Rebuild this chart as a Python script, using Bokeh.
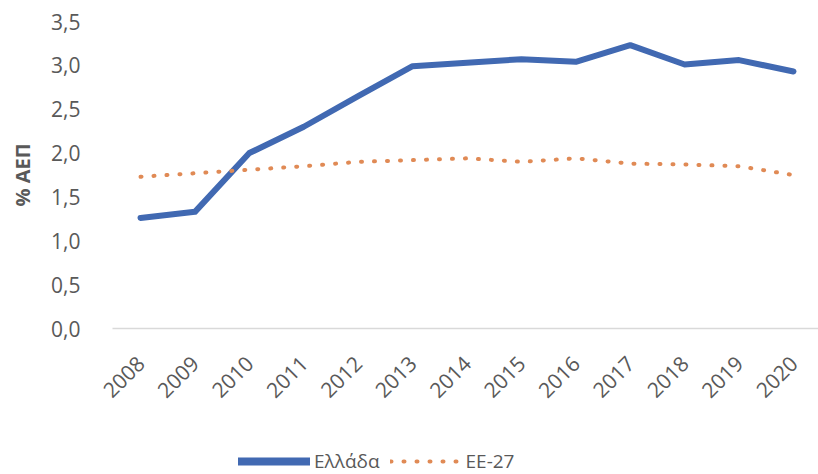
import math
from bokeh.plotting import figure
from bokeh.layouts import column
from bokeh.models import (ColumnDataSource, FixedTicker, CustomJSTickFormatter,
                          Legend, LegendItem, Range1d)
from bokeh.embed import file_html
from bokeh.resources import INLINE

years = [2008, 2009, 2010, 2011, 2012, 2013, 2014, 2015, 2016, 2017, 2018, 2019, 2020]
greece = [1.26, 1.33, 2.00, 2.30, 2.65, 2.99, 3.03, 3.07, 3.04, 3.23, 3.01, 3.06, 2.93]
eu27 = [1.73, 1.77, 1.81, 1.85, 1.90, 1.92, 1.94, 1.90, 1.94, 1.88, 1.87, 1.85, 1.75]
y_ticks = [0, 0.5, 1.0, 1.5, 2.0, 2.5, 3.0, 3.5]
name_greece = "Ελλάδα"
name_eu = "ΕΕ-27"
y_title = "% ΑΕΠ"

FONT = "Open Sans"
GRAY = "#595959"
BLUE = "#4169B2"
ORANGE = "#E08A55"

src = ColumnDataSource(dict(x=years, gr=greece, eu=eu27))

p = figure(width=818, height=446, output_backend="svg", toolbar_location=None,
           x_range=Range1d(2007.485, 2020.46), y_range=Range1d(0, 3.5),
           min_border_left=112, min_border_right=0, min_border_top=21,
           min_border_bottom=118)
p.outline_line_color = None
p.xgrid.visible = False
p.ygrid.visible = False

p.line("x", "gr", source=src, line_color=BLUE, line_width=6,
       line_join="round", line_cap="round")
p.line("x", "eu", source=src, line_color=ORANGE, line_width=4,
       line_dash="1 12", line_cap="round")

# y axis
ya = p.yaxis[0]
ya.ticker = FixedTicker(ticks=y_ticks)
ya.formatter = CustomJSTickFormatter(code="return tick.toFixed(1).replace('.', ',');")
ya.axis_line_color = None
ya.major_tick_line_color = None
ya.minor_tick_line_color = None
ya.major_label_standoff = 26
ya.major_label_text_font = FONT
ya.major_label_text_font_size = "21px"
ya.major_label_text_color = GRAY
ya.axis_label = y_title
ya.axis_label_text_font = FONT
ya.axis_label_text_font_size = "20px"
ya.axis_label_text_font_style = "bold"
ya.axis_label_text_color = GRAY
ya.axis_label_standoff = 12

# x axis
xa = p.xaxis[0]
xa.ticker = FixedTicker(ticks=years)
xa.formatter = CustomJSTickFormatter(code="return tick.toFixed(0);")
xa.axis_line_color = "#D9D9D9"
xa.axis_line_width = 1.5
xa.major_tick_line_color = None
xa.minor_tick_line_color = None
xa.major_label_orientation = math.pi / 4
xa.major_label_standoff = 25
xa.major_label_text_font = FONT
xa.major_label_text_font_size = "21px"
xa.major_label_text_color = GRAY

# legend strip below the chart (series drawn out of view, only the legend shows)
p2 = figure(width=818, height=28, output_backend="svg", toolbar_location=None,
            x_range=Range1d(0, 1), y_range=Range1d(0, 1),
            min_border_left=112, min_border_right=0, min_border_top=0,
            min_border_bottom=0)
p2.outline_line_color = None
p2.axis.visible = False
p2.grid.visible = False
lg_gr = p2.line("x", "gr", source=src, line_color=BLUE, line_width=8,
                line_cap="round")
lg_eu = p2.line("x", "eu", source=src, line_color=ORANGE, line_width=4,
                line_dash="1 12", line_cap="round")

legend = Legend(items=[LegendItem(label=name_greece, renderers=[lg_gr]),
                       LegendItem(label=name_eu, renderers=[lg_eu])],
                location=(126, 0), orientation="horizontal",
                glyph_width=72, glyph_height=20, label_standoff=4, spacing=10,
                label_text_font=FONT, label_text_font_size="19px",
                label_text_color=GRAY, border_line_color=None,
                background_fill_alpha=0, padding=2, margin=0)
p2.add_layout(legend, "center")

layout = column(p, p2, spacing=0)
open("out.html", "w").write(file_html(layout, INLINE))
